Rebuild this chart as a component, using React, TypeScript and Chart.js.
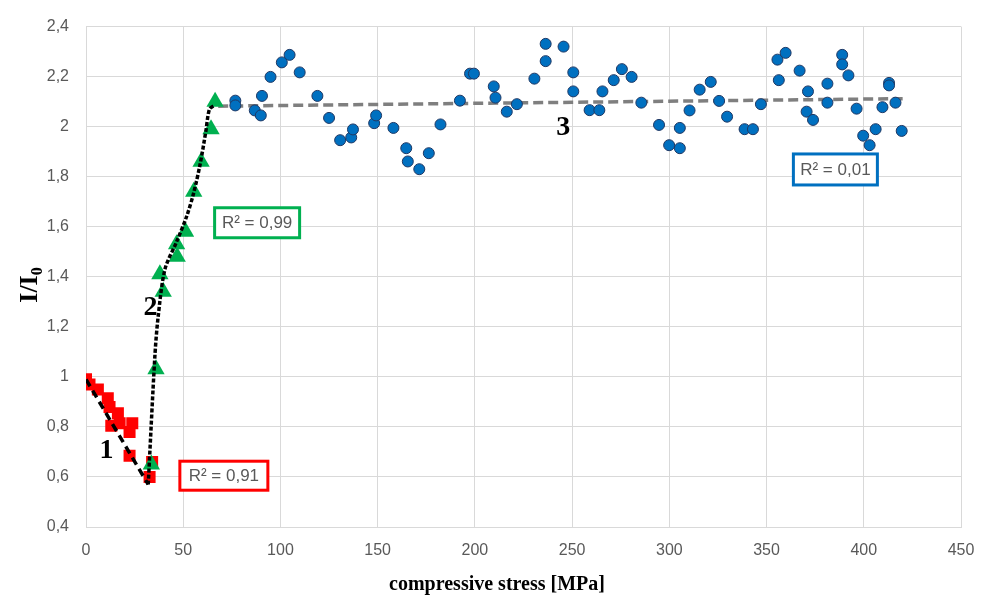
import React, { useEffect, useRef } from "react";
import { Chart, registerables } from "chart.js";

Chart.register(...registerables);

// Region 1 (red squares)
const redX = [0, 1.8, 6.1, 11.2, 12.1, 16.4, 13, 17.3, 23.8, 22.4, 22.4, 32.7, 34];
const redY = [0.99, 0.97, 0.95, 0.915, 0.88, 0.855, 0.805, 0.815, 0.815, 0.78, 0.685, 0.6, 0.66];

// Region 2 (green triangles)
const greenX = [33.6, 36, 39.7, 38, 46.9, 46.6, 51.2, 55.4, 59.2, 64.3, 66.4];
const greenY = [0.65, 1.03, 1.34, 1.41, 1.48, 1.53, 1.58, 1.74, 1.86, 1.99, 2.1];

// Region 3 (blue circles)
const blueX = [
  76.8, 76.8, 86.8, 89.9, 90.5, 94.9, 100.7, 104.7, 109.9, 119, 125, 130.7, 136.4, 137.3,
  148.2, 149.2, 158.1, 164.7, 165.5, 171.4, 176.3, 182.3, 192.3, 197.5, 199.5, 209.7, 210.6,
  216.4, 221.6, 230.6, 236.4, 236.4, 245.6, 250.6, 250.6, 259, 264, 265.6, 271.4, 275.6,
  280.6, 285.6, 294.7, 299.9, 305.4, 305.4, 310.4, 315.6, 321.3, 325.6, 329.7, 338.7, 343,
  347.1, 355.6, 359.8, 356.3, 367, 371.3, 370.6, 373.9, 381.3, 381.3, 388.9, 388.9, 392.1,
  396.3, 399.7, 403, 406.1, 409.6, 413, 413, 416.3, 419.5,
];
const blueY = [
  2.104, 2.085, 2.065, 2.045, 2.123, 2.199, 2.257, 2.287, 2.217, 2.123, 2.035, 1.946, 1.957, 1.989,
  2.014, 2.045, 1.995, 1.914, 1.861, 1.83, 1.894, 2.009, 2.104, 2.212, 2.212, 2.161, 2.116,
  2.06, 2.09, 2.192, 2.331, 2.262, 2.32, 2.217, 2.141, 2.066, 2.066, 2.141, 2.186, 2.23,
  2.199, 2.096, 2.007, 1.926, 1.995, 1.914, 2.065, 2.148, 2.179, 2.103, 2.04, 1.99, 1.99,
  2.09, 2.268, 2.295, 2.186, 2.224, 2.141, 2.06, 2.027, 2.172, 2.096, 2.287, 2.249, 2.205,
  2.072, 1.964, 1.926, 1.99, 2.078, 2.175, 2.165, 2.096, 1.983,
];

// Trend lines
const redTrendX = [0, 32];
const redTrendY = [0.99, 0.57];
const greenTrendX = [32, 35.4, 37.1, 40.6, 46.6, 51.7, 55.2, 58.7, 61.6, 63.5, 66];
const greenTrendY = [0.57, 1.08, 1.24, 1.43, 1.54, 1.64, 1.73, 1.85, 1.98, 2.07, 2.085];
const blueTrendX = [68, 420];
const blueTrendY = [2.082, 2.112];

// Annotations
const regionLabels = [
  { text: "1", x: 10.6, y: 0.703 },
  { text: "2", x: 33.2, y: 1.278 },
  { text: "3", x: 245.4, y: 1.997 },
];
const r2Boxes = [
  { text: "R² = 0,91", x: 70.9, y: 0.605, color: "#ff0000", w: 88, h: 29 },
  { text: "R² = 0,99", x: 88, y: 1.616, color: "#00b050", w: 85, h: 30 },
  { text: "R² = 0,01", x: 385.4, y: 1.829, color: "#0070c0", w: 84, h: 31 },
];

const xTitle = "compressive stress [MPa]";
const yTitleMain = "I/I";
const yTitleSub = "0";

const toPts = (xs: number[], ys: number[]) => xs.map((x, i) => ({ x, y: ys[i] }));

const fmt = (v: number) => {
  const r = Math.round(v * 10) / 10;
  return String(r).replace(".", ",");
};

export default function App() {
  const ref = useRef<HTMLCanvasElement | null>(null);

  useEffect(() => {
    if (!ref.current) return;
    const annot = {
      id: "annot",
      afterDatasetsDraw(chart: any) {
        const { ctx, scales } = chart;
        const xs = scales.x;
        const ys = scales.y;
        ctx.save();
        ctx.fillStyle = "#000";
        ctx.font = "bold 28px 'Liberation Serif', 'Times New Roman', serif";
        ctx.textAlign = "center";
        ctx.textBaseline = "middle";
        for (const l of regionLabels) {
          ctx.fillText(l.text, xs.getPixelForValue(l.x), ys.getPixelForValue(l.y));
        }
        for (const b of r2Boxes) {
          const cx = xs.getPixelForValue(b.x);
          const cy = ys.getPixelForValue(b.y);
          ctx.fillStyle = "#fff";
          ctx.fillRect(cx - b.w / 2, cy - b.h / 2, b.w, b.h);
          ctx.lineWidth = 3;
          ctx.strokeStyle = b.color;
          ctx.strokeRect(cx - b.w / 2, cy - b.h / 2, b.w, b.h);
          ctx.fillStyle = "#595959";
          ctx.font = "17px 'Liberation Sans', Arial, sans-serif";
          ctx.textAlign = "center";
          ctx.textBaseline = "middle";
          ctx.fillText(b.text, cx, cy + 1);
        }
        ctx.restore();
      },
      afterDraw(chart: any) {
        const { ctx } = chart;
        ctx.save();
        ctx.fillStyle = "#000";
        ctx.font = "bold 20px 'Liberation Serif', 'Times New Roman', serif";
        ctx.textAlign = "center";
        ctx.textBaseline = "middle";
        ctx.fillText(xTitle, 497, 585);
        ctx.translate(37, 285);
        ctx.rotate(-Math.PI / 2);
        ctx.font = "bold 26px 'Liberation Serif', 'Times New Roman', serif";
        const wMain = ctx.measureText(yTitleMain).width;
        ctx.font = "bold 16px 'Liberation Serif', 'Times New Roman', serif";
        const wSub = ctx.measureText(yTitleSub).width;
        const total = wMain + wSub;
        ctx.textAlign = "left";
        ctx.textBaseline = "alphabetic";
        ctx.font = "bold 26px 'Liberation Serif', 'Times New Roman', serif";
        ctx.fillText(yTitleMain, -total / 2, 0);
        ctx.font = "bold 16px 'Liberation Serif', 'Times New Roman', serif";
        ctx.fillText(yTitleSub, -total / 2 + wMain, 5);
        ctx.restore();
      },
    };

    const chart = new Chart(ref.current, {
      type: "scatter",
      data: {
        datasets: [
          {
            label: "red",
            data: toPts(redX, redY),
            pointStyle: "rect",
            pointRadius: 8.5,
            backgroundColor: "#ff0000",
            borderColor: "#ff0000",
            borderWidth: 0,
            order: 2,
          },
          {
            label: "green",
            data: toPts(greenX, greenY),
            pointStyle: "triangle",
            pointRadius: 10,
            backgroundColor: "#00b050",
            borderColor: "#00b050",
            borderWidth: 0,
            order: 1.5,
          },
          {
            label: "blue",
            data: toPts(blueX, blueY),
            pointStyle: "circle",
            pointRadius: 5.5,
            backgroundColor: "#0070c0",
            borderColor: "#1f3864",
            borderWidth: 1,
            order: 1,
          },
          {
            label: "redTrend",
            data: toPts(redTrendX, redTrendY),
            showLine: true,
            pointRadius: 0,
            borderColor: "#000",
            borderWidth: 3.5,
            borderDash: [8, 5],
            order: 1.8,
          },
          {
            label: "greenTrend",
            data: toPts(greenTrendX, greenTrendY),
            showLine: true,
            pointRadius: 0,
            borderColor: "#000",
            borderWidth: 3.5,
            borderDash: [4, 2],
            tension: 0.3,
            order: 1.2,
          },
          {
            label: "blueTrend",
            data: toPts(blueTrendX, blueTrendY),
            showLine: true,
            pointRadius: 0,
            borderColor: "#7f7f7f",
            borderWidth: 3.5,
            borderDash: [10, 5],
            order: 5,
          },
        ],
      },
      options: {
        responsive: false,
        animation: false,
        layout: { padding: { top: 15, right: 29, left: 0, bottom: 0 } },
        plugins: {
          legend: { display: false },
          tooltip: { enabled: false },
        },
        scales: {
          x: {
            type: "linear",
            min: 0,
            max: 450,
            ticks: {
              stepSize: 50,
              padding: 14,
              color: "#595959",
              font: { size: 16, family: "'Liberation Sans', Arial, sans-serif" },
              maxRotation: 0,
            },
            grid: { color: "#d9d9d9", lineWidth: 1, drawTicks: false },
            border: { display: true, color: "#d9d9d9" },
            afterFit: (s: any) => {
              s.height = 76;
            },
          },
          y: {
            type: "linear",
            min: 0.4,
            max: 2.4,
            ticks: {
              stepSize: 0.2,
              padding: 17,
              color: "#595959",
              font: { size: 16, family: "'Liberation Sans', Arial, sans-serif" },
              callback: (v: any) => fmt(Number(v)),
            },
            grid: { color: "#d9d9d9", lineWidth: 1, drawTicks: false },
            border: { display: true, color: "#d9d9d9" },
            afterFit: (s: any) => {
              s.width = 86;
            },
          },
        },
      },
      plugins: [annot],
    } as any);
    return () => chart.destroy();
  }, []);

  return (
    <div style={{ position: "absolute", left: 0, top: 0, width: 990, height: 603, background: "#fff" }}>
      <canvas ref={ref} width={990} height={603} style={{ display: "block", width: 990, height: 603 }} />
    </div>
  );
}
